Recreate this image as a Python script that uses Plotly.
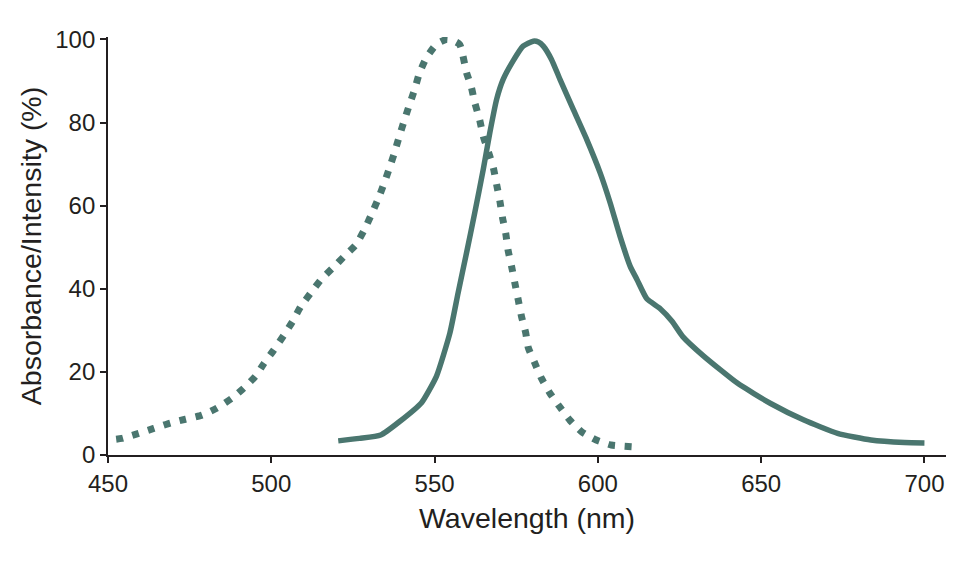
import plotly.graph_objects as go

# Absorbance spectrum (dotted)
abs_nm = [452.5, 454.2, 459.4, 464.0, 469.1, 473.7, 478.8, 483.4, 488.0, 491.6,
          495.2, 497.8, 500.8, 503.9, 506.5, 509.0, 512.1, 515.2, 518.8, 522.3,
          525.9, 528.5, 530.6, 532.6, 534.6, 536.2, 537.7, 539.2, 540.8, 542.3,
          543.9, 545.4, 547.5, 550.5, 553.5, 555.5, 557.7, 559.8, 561.3, 562.3,
          563.8, 564.9, 566.5, 568.0, 569.0, 570.0, 570.8, 571.8, 572.5, 573.6,
          574.6, 575.6, 576.6, 577.9, 578.7, 580.7, 582.7, 585.3, 588.3, 591.4,
          595.0, 599.5, 604.1, 610.5]
abs_val = [3.8, 4.0, 5.2, 6.4, 7.7, 8.6, 9.6, 11.3, 13.7, 16.1,
           19.0, 22.1, 25.3, 28.9, 32.1, 35.7, 39.0, 42.2, 45.0, 47.8,
           50.6, 54.2, 57.8, 61.4, 65.5, 69.1, 72.7, 76.7, 80.7, 84.3,
           88.0, 92.0, 95.6, 98.8, 100.0, 99.8, 98.8, 92.0, 88.4, 84.8,
           80.7, 76.7, 72.9, 69.1, 65.1, 61.1, 57.1, 53.3, 49.3, 45.3,
           41.3, 37.4, 33.4, 29.4, 25.8, 22.1, 18.5, 14.9, 11.6, 8.4,
           5.6, 3.6, 2.4, 2.0]

# Emission spectrum (solid)
em_nm = [520.5, 527.0, 533.5, 539.2, 546.0, 550.6, 554.7, 557.2, 559.8, 562.3,
         564.9, 566.9, 569.0, 571.0, 574.0, 577.1, 580.2, 581.8, 583.3, 585.8,
         588.4, 592.5, 596.6, 600.7, 603.8, 606.8, 609.9, 612.0, 615.0, 619.1,
         622.7, 626.0, 632.4, 642.7, 652.9, 663.1, 673.4, 683.6, 693.9, 700.0]
em_val = [3.4, 4.0, 4.8, 8.0, 12.6, 19.0, 29.4, 39.0, 48.7, 58.3,
          68.7, 77.5, 85.6, 90.4, 94.8, 98.4, 99.6, 99.4, 98.4, 95.2,
          90.4, 83.1, 75.9, 67.9, 60.6, 52.6, 45.4, 42.2, 37.6, 35.2,
          32.2, 28.5, 23.8, 17.3, 12.4, 8.4, 5.2, 3.6, 3.0, 2.9]

x_ticks = [450, 500, 550, 600, 650, 700]
y_ticks = [0, 20, 40, 60, 80, 100]

line_col = "#4a766f"
ink = "#231f20"
font_family = "Liberation Sans, Arial, Helvetica, sans-serif"

fig = go.Figure()
fig.add_trace(go.Scatter(
    x=abs_nm, y=abs_val, mode="lines",
    line=dict(color=line_col, width=7, dash="7px,9.5px", shape="spline", smoothing=0.5),
    showlegend=False, hoverinfo="skip"
))
fig.add_trace(go.Scatter(
    x=em_nm, y=em_val, mode="lines",
    line=dict(color=line_col, width=5.5, shape="spline", smoothing=0.5),
    showlegend=False, hoverinfo="skip"
))

axis_common = dict(
    showline=True, linecolor=ink, linewidth=1.8,
    ticks="outside", ticklen=6, tickwidth=1.8, tickcolor=ink,
    showgrid=False, zeroline=False,
    tickfont=dict(family=font_family, size=24, color=ink),
)

fig.update_xaxes(
    range=[450, 706.6], tickvals=x_ticks,
    title=dict(text="Wavelength (nm)", font=dict(family=font_family, size=28.5, color=ink), standoff=12),
    **axis_common
)
fig.update_yaxes(
    range=[0, 100.6], tickvals=y_ticks,
    title=dict(text="Absorbance/Intensity (%)", font=dict(family=font_family, size=28.5, color=ink), standoff=5),
    **axis_common
)

# page body adds an 8px offset, margins compensate for it
fig.update_layout(
    width=975, height=564,
    margin=dict(l=100, r=37, t=29, b=117),
    paper_bgcolor="white", plot_bgcolor="white",
    font=dict(family=font_family, color=ink),
)

fig.write_html("out.html")
